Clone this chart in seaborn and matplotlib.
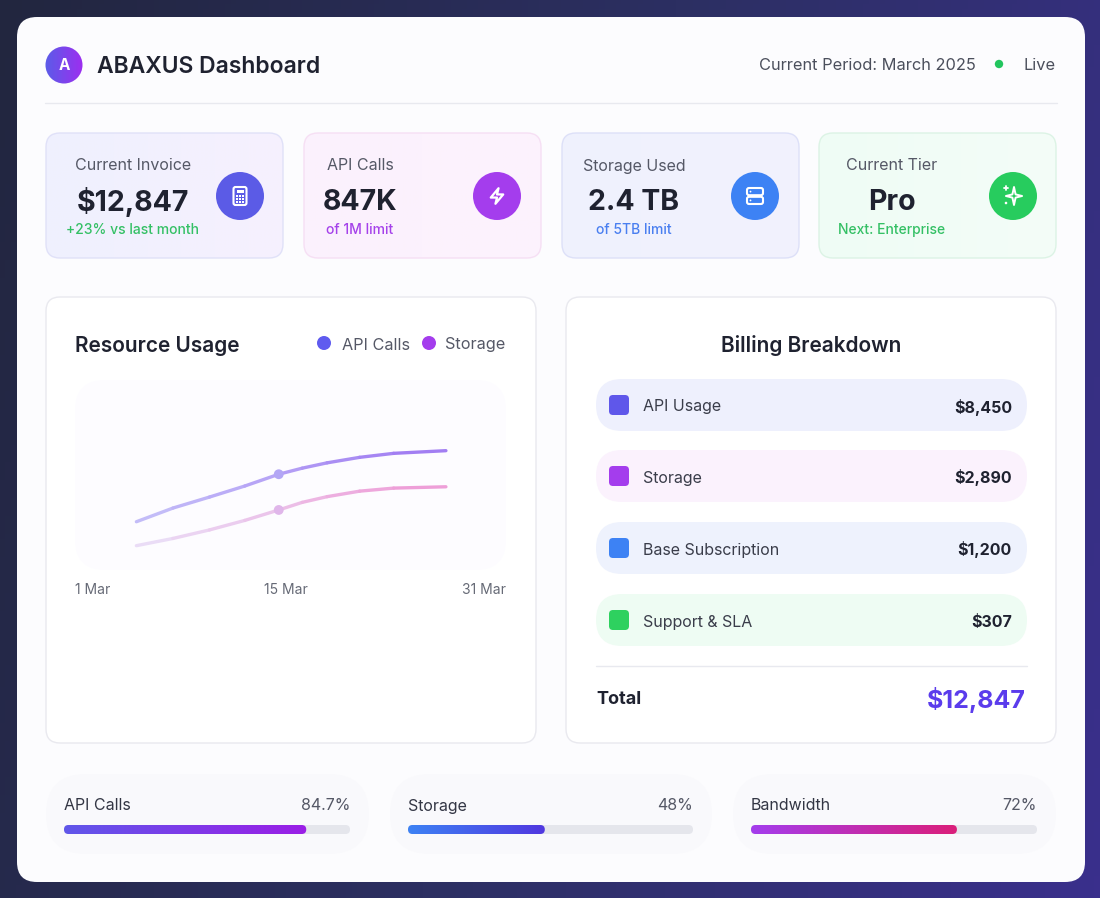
import numpy as np
import pandas as pd
import matplotlib
matplotlib.use("Agg")
import matplotlib.pyplot as plt
from matplotlib.patches import FancyBboxPatch, Circle, Polygon, Rectangle
from matplotlib.colors import LinearSegmentedColormap, to_rgb
import seaborn as sns

# ---------------- data ----------------
kpi_labels = ["Current Invoice", "API Calls", "Storage Used", "Current Tier"]
kpi_values = ["$12,847", "847K", "2.4 TB", "Pro"]
kpi_subs = ["+23% vs last month", "of 1M limit", "of 5TB limit", "Next: Enterprise"]

usage_days = [4.4, 7.2, 10.0, 12.7, 15.3, 17.1, 19.0, 21.5, 24.1, 28.1]
api_usage = [25.4, 32.6, 38.4, 44.2, 50.4, 53.6, 56.4, 59.3, 61.4, 62.8]
storage_usage = [12.8, 16.6, 21.1, 26.1, 31.6, 35.6, 38.6, 41.5, 43.1, 43.8]
marker_day = 15.3
x_tick_labels = ["1 Mar", "15 Mar", "31 Mar"]

billing_items = ["API Usage", "Storage", "Base Subscription", "Support & SLA"]
billing_amounts = [8450, 2890, 1200, 307]
billing_total = 12847

meter_names = ["API Calls", "Storage", "Bandwidth"]
meter_pcts = [84.7, 48, 72]

# ---------------- style ----------------
W, H = 1100, 898
sns.set_theme(style="white")
plt.rcParams["font.family"] = ["Inter", "DejaVu Sans"]

fig = plt.figure(figsize=(W / 100, H / 100), dpi=100)
ax = fig.add_axes([0, 0, 1, 1])
ax.set_xlim(0, W)
ax.set_ylim(H, 0)
ax.axis("off")


def px_axes(x0, y0, x1, y1):
    a = fig.add_axes([x0 / W, 1 - y1 / H, (x1 - x0) / W, (y1 - y0) / H])
    return a


def rbox(x0, y0, x1, y1, r, fc, ec="none", lw=1.0, z=1, alpha=1.0):
    p = FancyBboxPatch((x0, y0), x1 - x0, y1 - y0,
                       boxstyle=f"round,pad=0,rounding_size={r}",
                       fc=fc, ec=ec, lw=lw, zorder=z, alpha=alpha)
    ax.add_patch(p)
    return p


def grad_fill(target_ax, extent, c0, c1, clip, z, vertical=False):
    cmap = LinearSegmentedColormap.from_list("g", [c0, c1])
    g = np.linspace(0, 1, 256).reshape(1, -1)
    if vertical:
        g = g.T
    im = target_ax.imshow(g, extent=extent, cmap=cmap, aspect="auto",
                          zorder=z, interpolation="bilinear")
    im.set_clip_path(clip)
    return im


def txt(x, y, s, size, color, weight="normal", ha="left", va="center", z=10, dy=2.0):
    ax.text(x, y + dy, s, fontsize=size, color=color, fontweight=weight,
            ha=ha, va=va, zorder=z)


# ---------------- background ----------------
yy, xx = np.mgrid[0:1:200j, 0:1:200j]
bg = 0.75 * xx + 0.25 * (1 - yy) * 0.3 + 0.25 * yy
bg_cmap = LinearSegmentedColormap.from_list("bg", ["#22263f", "#2c2f62", "#3a2f8c"])
ax.imshow(bg, extent=[0, W, H, 0], cmap=bg_cmap, aspect="auto", zorder=0)

# main card
rbox(17, 17, 1085, 882, 20, "#fcfcfe", z=1)

# ---------------- header ----------------
logo = Circle((64, 65), 18.5, fc="none", ec="none", zorder=3)
ax.add_patch(logo)
grad_fill(ax, [45, 83, 84, 46], "#5b5ce8", "#9d2ef0", logo, 3)
txt(64, 65, "A", 11, "white", weight="bold", ha="center", dy=1)
txt(97, 65, "ABAXUS Dashboard", 16.5, "#1f2230", weight="semibold")
txt(976, 64, "Current Period: March 2025", 11.8, "#4b4f5c", ha="right")
ax.add_patch(Circle((999, 64), 4.2, fc="#22c55e", ec="none", zorder=3))
txt(1056, 64, "Live", 11.8, "#4b4f5c", ha="right")
ax.plot([45, 1057], [103, 103], color="#e8e9ef", lw=1.0, zorder=2)

# ---------------- KPI cards ----------------
card_x = [(46, 283), (304, 541), (562, 799), (819, 1056)]
card_fc0 = ["#eff0fe", "#fbf1fd", "#eff1fd", "#effcf5"]
card_fc1 = ["#f6f1fe", "#fdf3fd", "#f2f2fe", "#f4fdf8"]
card_ec = ["#e0e1f8", "#f6dff4", "#dde0f8", "#dcf3e5"]
text_cx = [133, 360, 634, 892]
icon_cx = [240, 497, 755, 1013]
icon_col = ["#5b5be6", "#a43ded", "#3d82f4", "#27cc5e"]
sub_col = ["#34c065", "#a542ea", "#4a7ff0", "#34c065"]
for i in range(4):
    x0, x1 = card_x[i]
    p = rbox(x0, 133, x1, 258, 14, "none", ec="none", z=2)
    grad_fill(ax, [x0, x1, 258, 133], card_fc0[i], card_fc1[i], p, 2)
    rbox(x0, 133, x1, 258, 14, "none", ec=card_ec[i], lw=1.0, z=3)
    txt(text_cx[i], 164, kpi_labels[i], 11.5, "#555866", ha="center")
    txt(text_cx[i], 199, kpi_values[i], 20.5, "#1f2230", weight="bold", ha="center", dy=3)
    txt(text_cx[i], 228, kpi_subs[i], 10, sub_col[i], weight="medium", ha="center")
    ax.add_patch(Circle((icon_cx[i], 196), 24, fc=icon_col[i], ec="none", zorder=4))

# icon 1: calculator
cx, cy = icon_cx[0], 196
rbox(cx - 6.5, cy - 9, cx + 6.5, cy + 9, 2, "none", ec="white", lw=1.5, z=5)
ax.add_patch(Rectangle((cx - 3.5, cy - 6), 7, 2.5, fc="white", ec="none", zorder=5))
for dx in (-3, 0, 3):
    for dy in (0, 3, 6):
        ax.add_patch(Rectangle((cx + dx - 0.8, cy + dy - 0.8), 1.6, 1.6,
                               fc="white", ec="none", zorder=5))
# icon 2: lightning bolt
cx, cy = icon_cx[1], 196
bolt = [(4, 14), (14, 2), (12, 10), (20, 10), (10, 22), (12, 14)]
ax.add_patch(Polygon([(cx + (u - 12) * 0.78, cy + (v - 12) * 0.78) for u, v in bolt],
                     closed=True, fc="none", ec="white", lw=1.6, joinstyle="round", zorder=5))
# icon 3: server
cx, cy = icon_cx[2], 196
rbox(cx - 8, cy - 8, cx + 8, cy - 0.8, 2, "none", ec="white", lw=1.5, z=5)
rbox(cx - 8, cy + 0.8, cx + 8, cy + 8, 2, "none", ec="white", lw=1.5, z=5)
ax.add_patch(Circle((cx - 4.5, cy - 4.4), 0.9, fc="white", ec="none", zorder=5))
ax.add_patch(Circle((cx - 4.5, cy + 4.4), 0.9, fc="white", ec="none", zorder=5))
# icon 4: sparkles
cx, cy = icon_cx[3] + 1, 196
s, k = 9, 1.6
star = [(cx, cy - s), (cx + k, cy - k), (cx + s * 0.9, cy), (cx + k, cy + k),
        (cx, cy + s), (cx - k, cy + k), (cx - s * 0.9, cy), (cx - k, cy - k)]
ax.add_patch(Polygon(star, closed=True, fc="none", ec="white", lw=1.4,
                     joinstyle="round", zorder=5))
ax.plot([cx - 10, cx - 6], [cy - 8, cy - 8], color="white", lw=1.3, zorder=5)
ax.plot([cx - 8, cx - 8], [cy - 10, cy - 6], color="white", lw=1.3, zorder=5)
ax.add_patch(Circle((cx - 8, cy + 7), 1.3, fc="white", ec="none", zorder=5))

# ---------------- Resource Usage panel ----------------
rbox(46, 297, 536, 743, 14, "white", ec="#e9e9ef", lw=1.0, z=2)
txt(75, 344, "Resource Usage", 15, "#1f2230", weight="semibold")
ax.add_patch(Circle((324, 343), 7, fc="#5f5bef", ec="none", zorder=4))
txt(342, 343, "API Calls", 11.7, "#555866")
ax.add_patch(Circle((429, 343), 7, fc="#a43ded", ec="none", zorder=4))
txt(445, 343, "Storage", 11.7, "#555866")
rbox(75, 380, 506, 570, 30, "#fdfcff", z=2)

lax = px_axes(75, 380, 506, 570)
lax.set_xlim(-0.3, 32.7)
lax.set_ylim(0, 100)
lax.patch.set_alpha(0)
lax.axis("off")


def gradient_line(days, vals, c0, c1):
    n = len(days)
    rows = []
    for i in range(n - 1):
        rows.append({"day": days[i], "val": vals[i], "seg": i})
        rows.append({"day": days[i + 1], "val": vals[i + 1], "seg": i})
    df = pd.DataFrame(rows)
    a0, a1 = np.array(to_rgb(c0)), np.array(to_rgb(c1))
    pal = [tuple(a0 + (a1 - a0) * t) for t in np.linspace(0, 1, n - 1)]
    sns.lineplot(data=df, x="day", y="val", hue="seg", palette=pal, sort=False,
                 estimator=None, linewidth=2.4, legend=False, ax=lax)
    for ln in lax.lines[-(n - 1):]:
        ln.set_solid_capstyle("round")


gradient_line(usage_days, api_usage, "#c3bcf8", "#a27ef2")
gradient_line(usage_days, storage_usage, "#eadcf6", "#ee9fd8")
mi = usage_days.index(marker_day)
sns.scatterplot(x=[marker_day], y=[api_usage[mi]], color="#b3a6f5", s=50,
                edgecolor="none", ax=lax, zorder=5)
sns.scatterplot(x=[marker_day], y=[storage_usage[mi]], color="#e0b6ea", s=50,
                edgecolor="none", ax=lax, zorder=5)
lax.set_xlim(-0.3, 32.7)
lax.set_ylim(0, 100)
lax.axis("off")

txt(75, 588, x_tick_labels[0], 10, "#666a76", ha="left")
txt(286, 588, x_tick_labels[1], 10, "#666a76", ha="center")
txt(506, 588, x_tick_labels[2], 10, "#666a76", ha="right")

# ---------------- Billing Breakdown panel ----------------
rbox(566, 297, 1056, 743, 14, "white", ec="#e9e9ef", lw=1.0, z=2)
txt(811, 344, "Billing Breakdown", 15, "#1f2230", weight="semibold", ha="center")
row_cy = [405, 476, 548, 620]
row_fc = ["#eef0fd", "#fbf2fd", "#eef2fd", "#eefcf3"]
sq_col = ["#5f57ea", "#a43ded", "#3d82f4", "#2ed15f"]
for i in range(4):
    cyy = row_cy[i]
    rbox(596, cyy - 26, 1027, cyy + 26, 26, row_fc[i], z=3)
    rbox(609, cyy - 10, 629, cyy + 10, 4, sq_col[i], z=4)
    txt(643, cyy, billing_items[i], 11.5, "#3a3d4a")
    txt(1012, cyy, f"${billing_amounts[i]:,}", 11.5, "#1f2230", weight="bold", ha="right")
ax.plot([596, 1027], [666, 666], color="#e8e9ef", lw=1.0, zorder=3)
txt(596, 698, "Total", 13, "#1f2230", weight="bold")
txt(1026, 698, f"${billing_total:,}", 18, "#5b3cec", weight="bold", ha="right")

# ---------------- bottom meters ----------------
meter_x = [(46, 369), (390, 712), (733, 1056)]
meter_c0 = ["#6057ea", "#3d82f4", "#a43ded"]
meter_c1 = ["#9b1ee6", "#5138e0", "#db1f7a"]
for i in range(3):
    x0, x1 = meter_x[i]
    rbox(x0, 774, x1, 854, 40, "#f9f9fc", z=2)
    bx0, bx1 = x0 + 18, x1 - 19
    txt(bx0, 804, meter_names[i], 11.5, "#333644")
    pct = meter_pcts[i]
    txt(bx1, 804, f"{pct:g}%", 11.5, "#555866", ha="right")
    rbox(bx0, 825, bx1, 834, 4.5, "#e5e6ec", z=3)
    bax = px_axes(bx0, 825, bx1, 834)
    sns.barplot(x=[pct], y=[0], orient="h", color=meter_c0[i], width=1.0, ax=bax)
    bax.set_xlim(0, 100)
    bax.set_ylim(0.5, -0.5)
    bax.axis("off")
    bax.patch.set_alpha(0)
    bar = bax.patches[0]
    wbar = bar.get_width()
    bar.set_visible(False)
    xunits_per_px = 100 / (bx1 - bx0)
    r = 4.5 * xunits_per_px
    asp = (1 / 9) / xunits_per_px
    clip = FancyBboxPatch((0, -0.5), wbar, 1.0,
                          boxstyle=f"round,pad=0,rounding_size={r}",
                          mutation_aspect=asp, fc="none", ec="none")
    bax.add_patch(clip)
    grad_fill(bax, [0, wbar, 0.5, -0.5], meter_c0[i], meter_c1[i], clip, 3)
    bax.set_xlim(0, 100)
    bax.set_ylim(0.5, -0.5)

fig.savefig("out.png", dpi=100)
